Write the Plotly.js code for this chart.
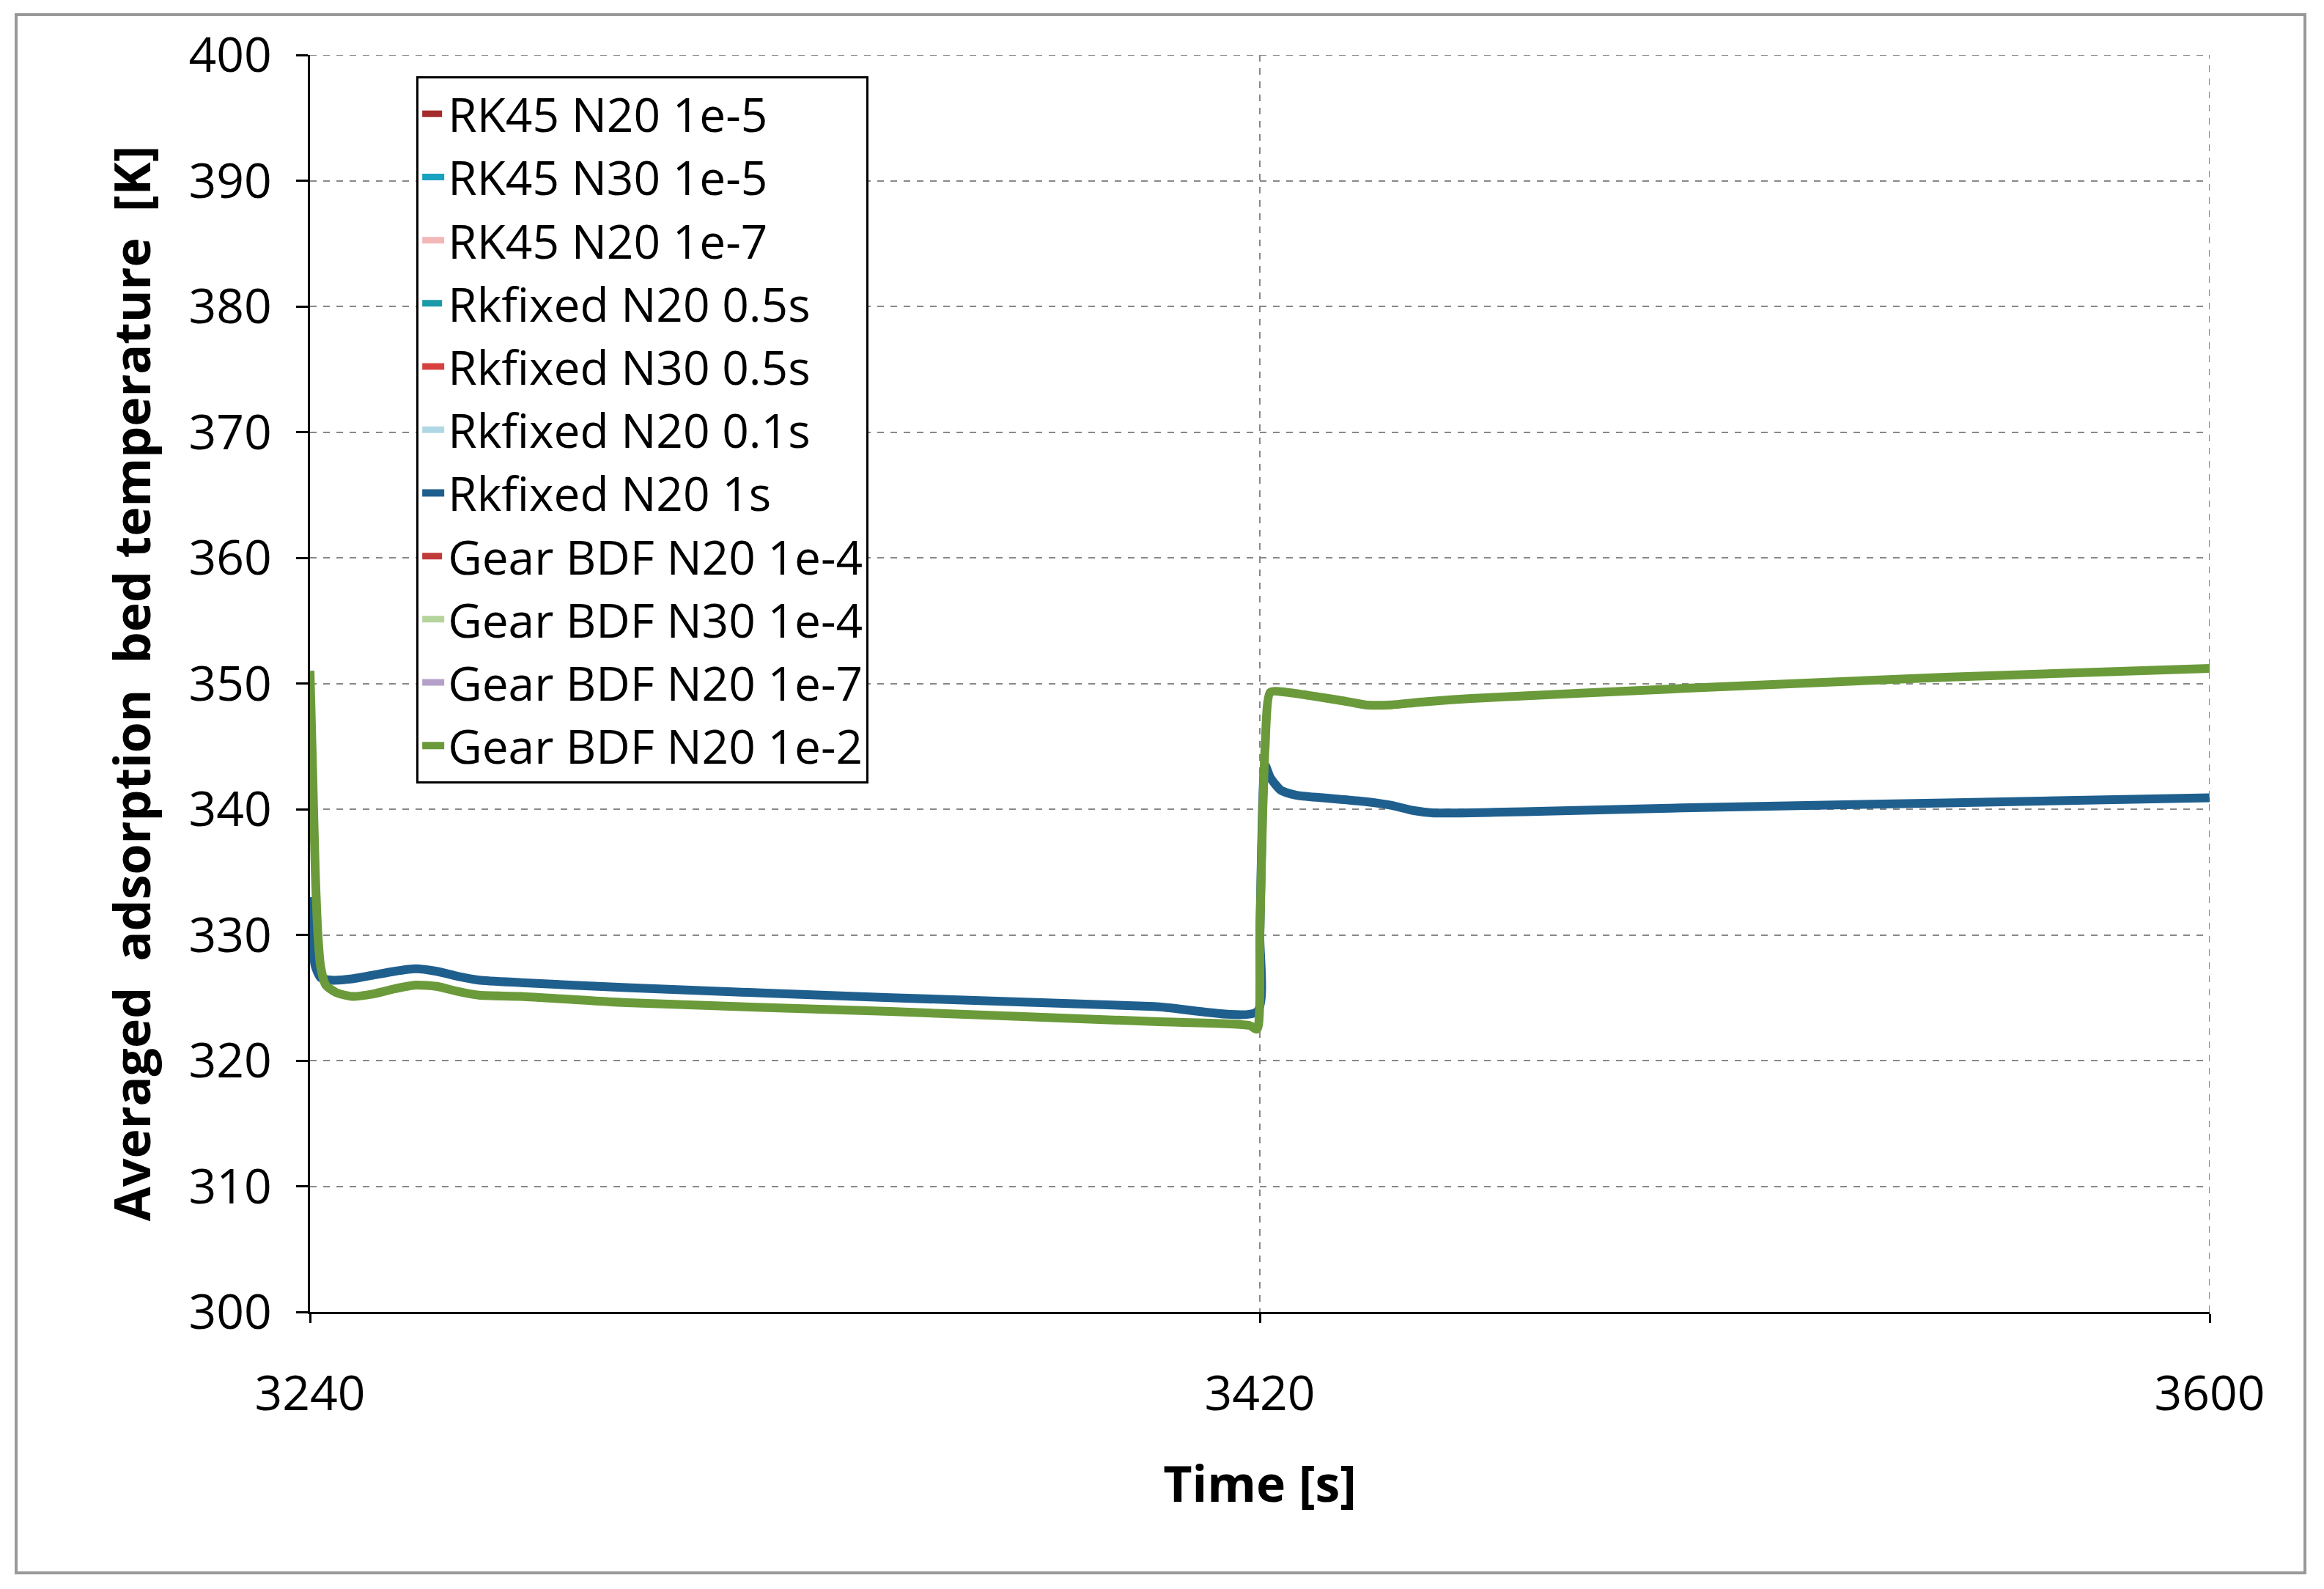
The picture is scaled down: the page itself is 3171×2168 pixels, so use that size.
<!DOCTYPE html><html><head><script src="https://cdn.plot.ly/plotly-3.0.1.min.js"></script></head><body style="margin:0;background:#fff"><div id="g" style="width:3171px;height:2168px"></div><script>
const names=["RK45 N20 1e-5","RK45 N30 1e-5","RK45 N20 1e-7","Rkfixed N20 0.5s","Rkfixed N30 0.5s","Rkfixed N20 0.1s","Rkfixed N20 1s","Gear BDF N20 1e-4","Gear BDF N30 1e-4","Gear BDF N20 1e-7","Gear BDF N20 1e-2"];
const colors=["#a52a2a","#17a2c0","#f2b8b8","#1a9aa8","#d84040","#b0d8e4","#1f5f8e","#c03a3a","#b4d49c","#b4a0c8","#6a9a3a"];
const dashes=["dash","solid","longdash","dash","solid","longdash","solid","dash","solid","longdash","solid"];
const group=[1,1,1,1,1,1,0,1,1,1,1];
const timeA=[3240,3240.5,3241,3241.5,3242,3243,3245,3248,3252,3256,3260,3264,3268,3272,3280,3300,3350,3400,3418,3419.5,3420,3420.5,3421,3422,3425,3430,3436,3440,3445,3450,3460,3500,3550,3600];
const tempA=[351,343,335,330,327.5,326,325.4,325.1,325.3,325.7,326,325.9,325.5,325.2,325.1,324.6,323.9,323.1,322.8,322.5,330,339,345,349.3,349.3,349,348.6,348.3,348.3,348.5,348.8,349.6,350.5,351.2];
const timeB=[3240,3240.5,3241,3242,3244,3248,3252,3256,3260,3264,3268,3272,3280,3300,3350,3400,3419.5,3420,3420.5,3421,3422,3424,3427,3432,3440,3445,3449,3453,3458,3470,3500,3550,3600];
const tempB=[333,329,327.5,326.6,326.4,326.5,326.8,327.1,327.3,327.1,326.7,326.4,326.2,325.8,325,324.3,323.9,330,340,343.5,342.5,341.5,341.1,340.9,340.6,340.3,339.9,339.7,339.7,339.8,340.1,340.5,340.9];
const data=names.map((n,i)=>({x:group[i]?timeA:timeB,y:group[i]?tempA:tempB,name:n,mode:"lines",legendrank:i+1,legendgroup:"g"+i,
 line:{color:colors[i],dash:dashes[i],width:(i==10||i==6)?12:9,shape:"spline",smoothing:0.6}}));
const order=[0,1,2,3,4,5,7,8,9,6,10];
const drawn=order.map(i=>data[i]);
const font="Open Sans, Liberation Sans, sans-serif";
const layout={width:3171,height:2168,margin:{l:423,r:156,t:75,b:378},paper_bgcolor:"#fff",plot_bgcolor:"#fff",
 font:{family:font,size:66,color:"#000"},showlegend:true,
 legend:{traceorder:"normal",tracegroupgap:12,x:0.056,y:0.983,xanchor:"left",yanchor:"top",bordercolor:"#000",borderwidth:3,bgcolor:"#fff",font:{size:64}},
 xaxis:{range:[3240,3600],tickvals:[3240,3420,3600],showgrid:true,gridcolor:"#888",griddash:"dash",gridwidth:2,
  showline:true,linecolor:"#000",linewidth:3,ticks:"outside",ticklen:12,tickwidth:3,tickcolor:"#000",zeroline:false,ticklabelstandoff:40,
  title:{text:"<b>Time [s]</b>",font:{size:68},standoff:60}},
 yaxis:{range:[300,400],dtick:10,showgrid:true,gridcolor:"#888",griddash:"dash",gridwidth:2,
  showline:true,linecolor:"#000",linewidth:3,ticks:"outside",ticklen:16,tickwidth:3,tickcolor:"#000",zeroline:false,ticklabelstandoff:20,
  title:{text:"<b>Averaged  adsorption  bed temperature  [K]</b>",font:{size:68},standoff:30}},
 shapes:[{type:"rect",xref:"paper",yref:"paper",x0:(22-423)/2592,x1:(3145-423)/2592,y0:-(378-22)/1715,y1:1+(75-20)/1715,
   line:{color:"#999",width:4}},
  {type:"line",xref:"x",yref:"paper",x0:3600,x1:3600,y0:0,y1:1,line:{color:"#888",width:2,dash:"dash"}},
  {type:"line",xref:"paper",yref:"y",x0:0,x1:1,y0:400,y1:400,line:{color:"#888",width:2,dash:"dash"}}]};
Plotly.newPlot("g",drawn,layout,{staticPlot:true});
</script></body></html>
